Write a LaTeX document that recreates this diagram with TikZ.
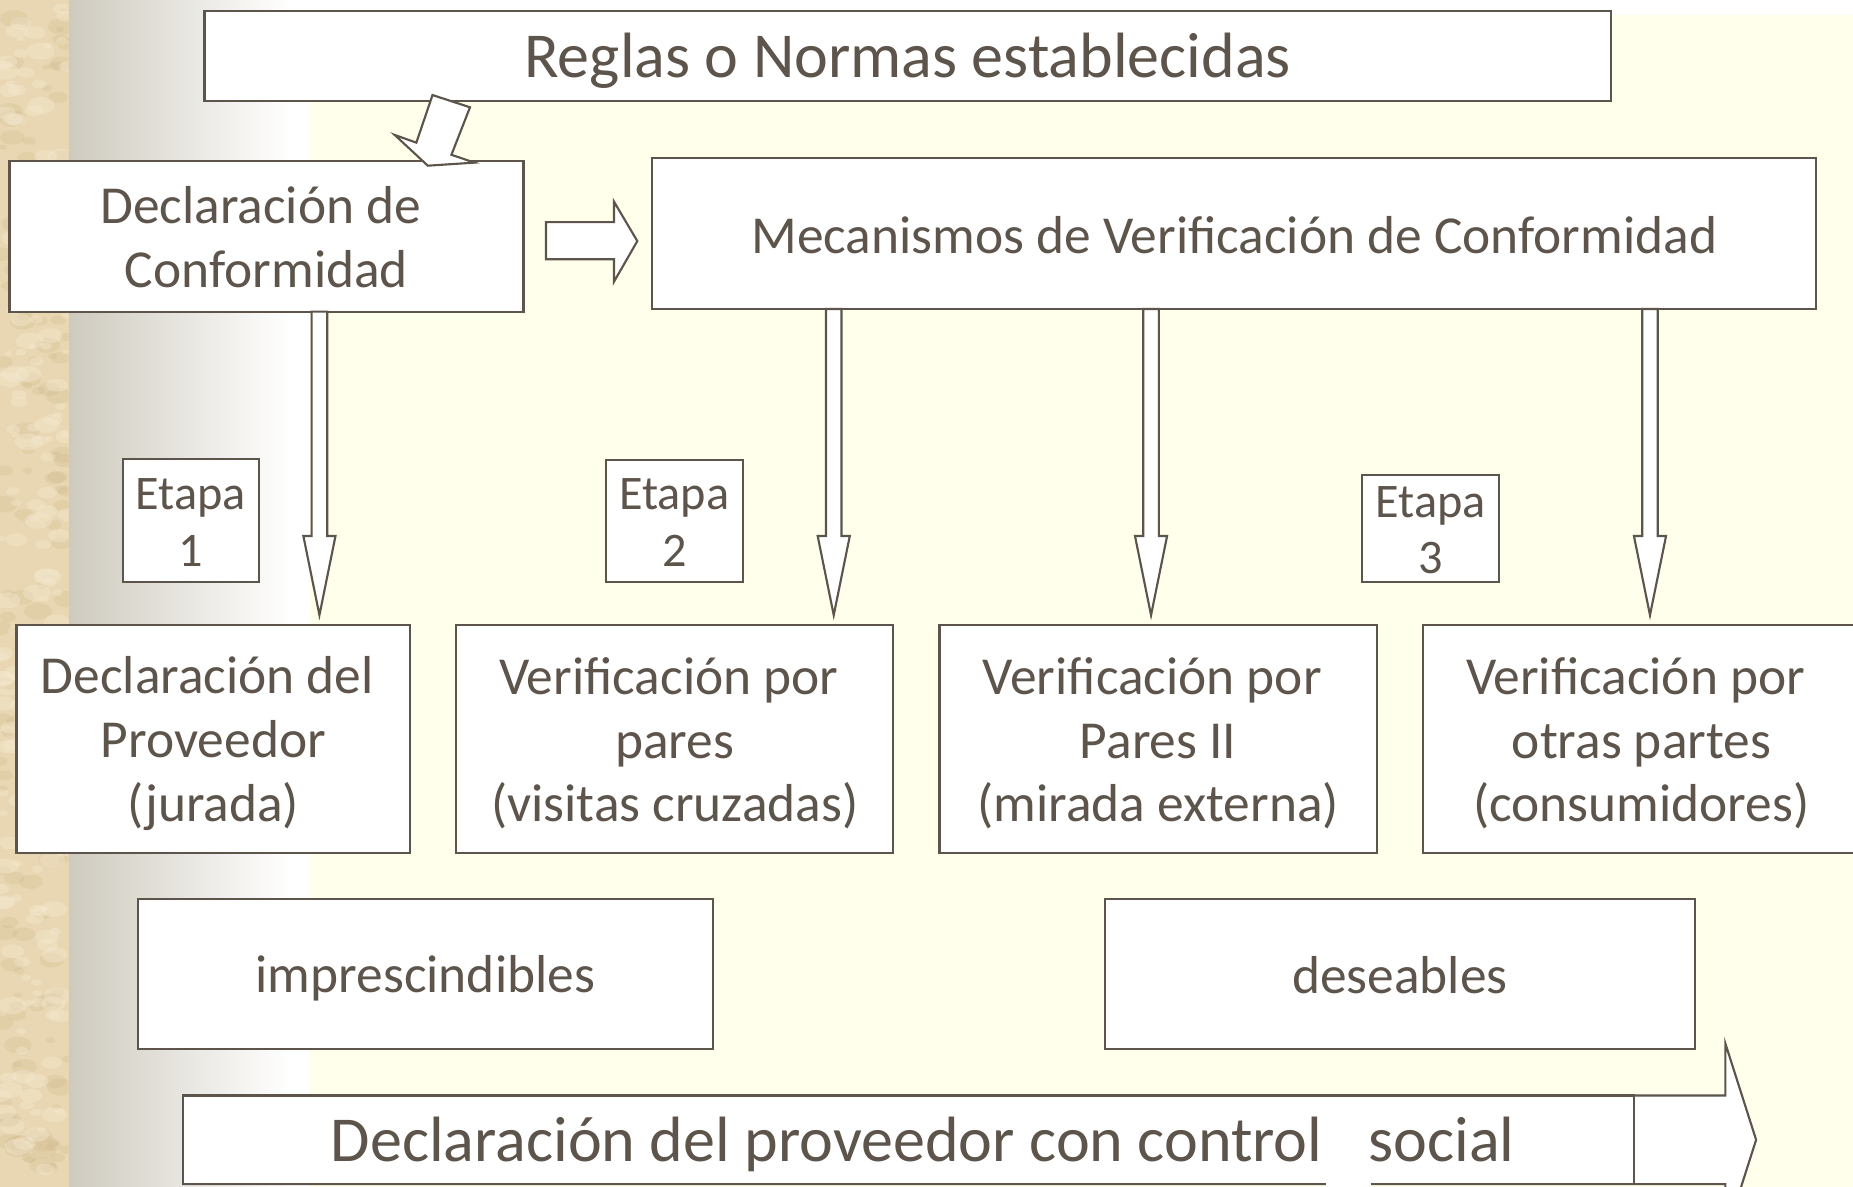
\documentclass[tikz,border=0pt]{standalone}
\usepackage{fontspec}
\setmainfont{Carlito}
\usetikzlibrary{calc}
\definecolor{ink}{RGB}{93,84,75}
\definecolor{bgyellow}{RGB}{255,255,235}
\definecolor{parch}{RGB}{232,215,178}
\definecolor{parchlight}{RGB}{245,234,208}
\definecolor{parchdark}{RGB}{200,175,130}
\definecolor{gradgray}{RGB}{206,202,190}
\newcommand\vbarrow[2]{\draw[barrow] let \p1=(#1), \p2=(#2) in
  (\x1-6.6pt,\y1) -- (\x1+6.6pt,\y1) -- (\x1+6.6pt,\y2+75.5pt) -- (\x1+13.6pt,\y2+75.5pt)
  -- (\x1,\y2+8.5pt) -- (\x1-13.6pt,\y2+75.5pt) -- (\x1-6.6pt,\y2+75.5pt) -- cycle;}
\newcommand\trsp{\hspace*{10pt}}
\begin{document}
\begin{tikzpicture}[x=1pt,y=-1pt,
  box/.style={draw=ink, fill=white, line width=1.8pt, inner sep=0pt, outer sep=0pt},
  txt/.style={inner sep=0pt, outer sep=0pt, align=center, text=ink,
    font=\fontsize{45.2}{54}\selectfont},
  titletxt/.style={txt, font=\fontsize{54.2}{65}\selectfont},
  etapatxt/.style={txt, font=\fontsize{40.8}{48}\selectfont},
  barrow/.style={draw=ink, fill=white, line width=1.8pt, line join=miter}]
% background
\useasboundingbox (0,0) rectangle (1568,1004.4);
\fill[bgyellow] (0,0) rectangle (1568,1004.4);
\fill[white] (262,0) rectangle (1568,12.7);
\shade[left color=gradgray, right color=white] (58,0) rectangle (245,1004.4);
\fill[white] (245,0) rectangle (262,1004.4);
\fill[parch] (0,0) rectangle (58,1004.4);
\begin{scope}
  \clip (0,0) rectangle (58,1004.4);
  \pgfmathsetseed{12}
  \foreach \i in {1,...,160}{
    \pgfmathsetmacro\xx{58*rnd}\pgfmathsetmacro\yy{1004*rnd}\pgfmathsetmacro\rr{3+9*rnd}
    \fill[parchdark, opacity=0.2] (\xx,\yy) ellipse ({\rr} and {0.6*\rr});
  }
  \foreach \i in {1,...,180}{
    \pgfmathsetmacro\xx{58*rnd}\pgfmathsetmacro\yy{1004*rnd}\pgfmathsetmacro\rr{3+9*rnd}
    \fill[parchlight, opacity=0.4] (\xx,\yy) ellipse ({\rr} and {0.6*\rr});
  }
\end{scope}

% boxes
\node[box, minimum width=1190, minimum height=76.5] (reg) at (768,47.25) {};
\node[titletxt] (regt) at ([yshift=-4pt]reg.center) {Reglas o Normas establecidas};
\node[box, minimum width=435, minimum height=127.7] (dc) at (225.5,199.85) {};
\node[txt] (dct) at ([yshift=-1pt]dc.center) {Declaración de\trsp\\Conformidad};
\node[box, minimum width=985, minimum height=127.5] (mec) at (1044.5,197.75) {};
\node[txt] (mect) at ([yshift=-1pt]mec.center) {Mecanismos de Verificación de Conformidad};

\node[box, minimum width=115.6, minimum height=103.5] (e1) at (161.6,440.45) {};
\node[etapatxt] (e1t) at ([yshift=-1.5pt]e1.center) {Etapa\\1};
\node[box, minimum width=115.6, minimum height=103] (e2) at (570.6,440.7) {};
\node[etapatxt] (e2t) at ([yshift=-1.5pt]e2.center) {Etapa\\2};
\node[box, minimum width=116.2, minimum height=90.2] (e3) at (1210.6,447.1) {};
\node[etapatxt] (e3t) at ([yshift=-1.5pt]e3.center) {Etapa\\3};

\node[box, minimum width=333, minimum height=193] (b1) at (180.5,625.5) {};
\node[txt] (b1t) at ([yshift=-3.5pt]b1.center) {Declaración del\trsp\\Proveedor\\(jurada)};
\node[box, minimum width=370, minimum height=193] (b2) at (571,625.5) {};
\node[txt] (b2t) at ([yshift=-3.5pt]b2.center) {Verificación por\trsp\\pares\\(visitas cruzadas)};
\node[box, minimum width=370, minimum height=193] (b3) at (980,625.5) {};
\node[txt] (b3t) at ([yshift=-3.5pt]b3.center) {Verificación por\trsp\\Pares II\\(mirada externa)};
\node[box, minimum width=370, minimum height=193] (b4) at (1389,625.5) {};
\node[txt] (b4t) at ([yshift=-3.5pt]b4.center) {Verificación por\trsp\\otras partes\\(consumidores)};

\node[box, minimum width=486, minimum height=127] (imp) at (360,824) {};
\node[txt] (impt) at ([yshift=-4pt]imp.center) {imprescindibles};
\node[box, minimum width=499, minimum height=127] (des) at (1184.5,824) {};
\node[txt] (dest) at ([yshift=-1pt]des.center) {deseables};

% bottom big arrow
\draw[barrow] (155,927) -- (1460,927) -- (1460,883) -- (1486,964.5) -- (1460,1046)
  -- (1460,1002) -- (155,1002) -- cycle;
\node[box, minimum width=1228, minimum height=75] (ctl) at (769,964.5) {};
\node[titletxt, anchor=base west] (ctlt) at (280,983) {Declaración del proveedor con control};
\node[titletxt, anchor=base west] (soc) at (1158,983) {social};
\fill[white] (1122,995) rectangle (1160,1006);

% connectors
\coordinate (ax1) at (270.3,0);
\coordinate (ax2) at (705.5,0);
\coordinate (ax3) at (974,0);
\coordinate (ax4) at (1396.2,0);
\vbarrow{dc.south -| ax1}{b1.north -| ax1}
\vbarrow{mec.south -| ax2}{b2.north -| ax2}
\vbarrow{mec.south -| ax3}{b3.north -| ax3}
\vbarrow{mec.south -| ax4}{b4.north -| ax4}

\draw[barrow] (462,188) -- (519.6,188) -- (519.6,170.7) -- (539.3,204) -- (519.6,238.3)
  -- (519.6,219.4) -- (462,219.4) -- cycle;

\draw[barrow] (366,80.4) -- (397.7,90.8) -- (382,131) -- (401.6,137.6) -- (362,140.2)
  -- (334,114.2) -- (352.3,120.7) -- cycle;
\end{tikzpicture}
\end{document}
